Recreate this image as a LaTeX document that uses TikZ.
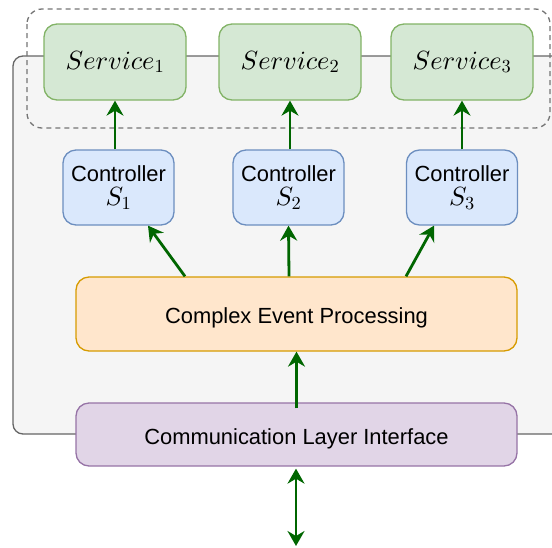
\RequirePackage{fix-cm}
\documentclass[tikz,border=0pt]{standalone}
\usepackage{fontspec}
\setmainfont{Liberation Sans}
\usetikzlibrary{arrows.meta}

% use the 10pt designs at every size, for a heavier math italic
\DeclareFontShape{OML}{cmm}{m}{it}{<->cmmi10}{\skewchar\font=127}
\DeclareFontShape{OT1}{cmr}{m}{n}{<->cmr10}{}

\definecolor{panelfill}{HTML}{F5F5F5}
\definecolor{paneldraw}{HTML}{666666}
\definecolor{svcfill}{HTML}{D5E8D4}
\definecolor{svcdraw}{HTML}{82B366}
\definecolor{ctlfill}{HTML}{DAE8FC}
\definecolor{ctldraw}{HTML}{6C8EBF}
\definecolor{cepfill}{HTML}{FFE6CC}
\definecolor{cepdraw}{HTML}{D79B00}
\definecolor{clifill}{HTML}{E1D5E7}
\definecolor{clidraw}{HTML}{9673A6}
\definecolor{linkgreen}{HTML}{006600}

\newcommand{\txtsize}{\fontsize{21.9}{23.5}\selectfont}
\newcommand{\mathbig}[1]{{\fontsize{26.3}{23.5}\selectfont$#1$}}

\begin{document}
\begin{tikzpicture}[x=1pt,y=-1pt,
  box/.style={rounded corners=13pt, line width=1.3pt, inner sep=0pt,
    align=center, font=\txtsize, text=black},
  svc/.style={box, fill=svcfill, draw=svcdraw, minimum width=142pt, minimum height=76pt},
  ctl/.style={box, fill=ctlfill, draw=ctldraw, minimum width=111pt, minimum height=75pt},
  cep/.style={box, fill=cepfill, draw=cepdraw, minimum width=441pt, minimum height=74pt,
    text height=19.5pt, text depth=0pt},
  cli/.style={box, fill=clifill, draw=clidraw, minimum width=441pt, minimum height=63pt,
    text height=19.5pt, text depth=0pt},
  link/.style={draw=linkgreen, line width=2.8pt,
    -{Stealth[length=15pt,width=17pt,inset=5pt]}},
  twoway/.style={draw=linkgreen, line width=2.8pt,
    {Stealth[length=15pt,width=17pt,inset=5pt]}-{Stealth[length=15pt,width=17pt,inset=5pt]}}
]
\useasboundingbox (0,0) rectangle (552,547);
\clip (0,0) rectangle (552,547);

% enclosing panel, running off the right edge
\draw[fill=panelfill, draw=paneldraw, line width=1.3pt, rounded corners=10pt]
  (13,56) rectangle (580,434);

% dashed group around the services
\draw[draw=paneldraw!90, line width=1.3pt, dash pattern=on 5pt off 4pt, rounded corners=15pt]
  (27,9) rectangle (550,128);

% services
\node[svc] (sv1) at (115,62)  {\mathbig{Service_1}};
\node[svc] (sv2) at (290,62)  {\mathbig{Service_2}};
\node[svc] (sv3) at (462,62)  {\mathbig{Service_3}};

% controllers
\node[ctl] (c1) at (118.5,187.5) {Controller\\\mathbig{S_1}};
\node[ctl] (c2) at (288.5,187.5) {Controller\\\mathbig{S_2}};
\node[ctl] (c3) at (462,187.5)   {Controller\\\mathbig{S_3}};

% processing and interface layers
\node[cep] (cep) at (296.5,314)   {Complex Event Processing};
\node[cli] (cli) at (296.5,434.5) {Communication Layer Interface};

\coordinate (ext) at (296,546);

% connectors
\draw[link] (c1.north -| sv1.south) -- (sv1.south);
\draw[link] (c2.north -| sv2.south) -- (sv2.south);
\draw[link] (c3.north -| sv3.south) -- (sv3.south);

\draw[link] ([xshift=-111.5pt]cep.north) -- ([xshift=29.5pt]c1.south);
\draw[link] ([xshift=-7.5pt]cep.north) -- (c2.south);
\draw[link] ([xshift=109.5pt]cep.north) -- ([xshift=-28pt]c3.south);

\draw[link] ([yshift=-6pt]cli.north) -- (cep.south);
\draw[twoway] ([yshift=-2pt]cli.south -| ext) -- (ext);
\end{tikzpicture}
\end{document}
